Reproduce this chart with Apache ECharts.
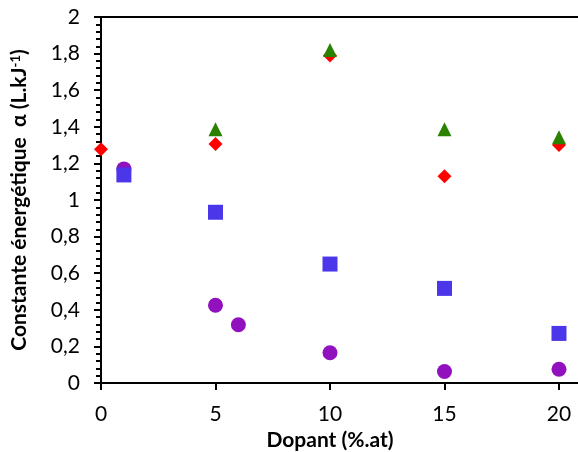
<!DOCTYPE html>
<html><head><meta charset="utf-8">
<script src="https://cdn.jsdelivr.net/npm/echarts@6/dist/echarts.min.js"></script>
<style>html,body{margin:0;padding:0;background:#fff}#c{width:578px;height:452px}</style>
</head><body><div id="c"></div>
<script>
const xTicks = [0, 5, 10, 15, 20];
const purpleX = [1, 5, 6, 10, 15, 20];
const purpleY = [1.17, 0.425, 0.318, 0.165, 0.063, 0.075];
const redX = [0, 5, 10, 15, 20];
const redY = [1.277, 1.306, 1.79, 1.13, 1.30];
const blueX = [1, 5, 10, 15, 20];
const blueY = [1.137, 0.933, 0.65, 0.517, 0.271];
const greenX = [5, 10, 15, 20];
const greenY = [1.386, 1.82, 1.386, 1.343];

const zip = (xs, ys) => xs.map((x, i) => [x, ys[i]]);
const font = 'Lato, "Open Sans", sans-serif';
const chart = echarts.init(document.getElementById('c'), null, {renderer: 'canvas'});
chart.setOption({
  animation: false,
  grid: {left: 101, right: 0, top: 17, bottom: 69, outerBoundsMode: 'none'},
  xAxis: [{
    type: 'value', min: 0, max: 20.83, interval: 5,
    axisLine: {show: true, lineStyle: {color: '#000', width: 2}},
    axisTick: {show: true, inside: false, length: 7, lineStyle: {color: '#000', width: 2}, customValues: xTicks},
    axisLabel: {color: '#000', fontSize: 21, fontFamily: font, margin: 21, customValues: xTicks,
      formatter: v => (Math.abs(v % 5) < 1e-6 ? String(v) : '')},
    splitLine: {show: false},
    name: 'Dopant (%.at)', nameLocation: 'middle', nameGap: 43,
    nameTextStyle: {color: '#000', fontSize: 21, fontWeight: 'bold', fontFamily: font, padding: [0, 19, 0, 0]}
  }, {
    type: 'value', position: 'top', min: 0, max: 20.83,
    axisLine: {show: true, onZero: false, lineStyle: {color: '#000', width: 2}},
    axisTick: {show: false}, axisLabel: {show: false}, splitLine: {show: false}
  }],
  yAxis: {
    type: 'value', min: 0, max: 2, interval: 0.2,
    axisLine: {show: true, lineStyle: {color: '#000', width: 2}},
    axisTick: {show: true, inside: false, length: 7, lineStyle: {color: '#000', width: 2}},
    minorTick: {show: true, splitNumber: 5, length: 5, lineStyle: {color: '#000', width: 2}},
    axisLabel: {color: '#000', fontSize: 21, fontFamily: font, margin: 21,
      formatter: v => String(Math.round(v * 10) / 10).replace('.', ',')},
    splitLine: {show: false},
    name: 'Constante énergétique  α (L.kJ{sup|-1})', nameLocation: 'middle', nameGap: 71,
    nameTextStyle: {color: '#000', fontSize: 21, fontWeight: 'bold', fontFamily: font,
      rich: {sup: {fontSize: 13, fontWeight: 'bold', fontFamily: font, color: '#000', verticalAlign: 'top', padding: [0, 0, 8, 0]}}}
  },
  series: [
    {type: 'scatter', data: zip(purpleX, purpleY), symbol: 'circle', symbolSize: 15,
     itemStyle: {color: '#9111BE', opacity: 1}},
    {type: 'scatter', data: zip(redX, redY), symbol: 'diamond', symbolSize: [14, 14],
     itemStyle: {color: '#FF0000', opacity: 1}},
    {type: 'scatter', data: zip(blueX, blueY), symbol: 'rect', symbolSize: 15,
     itemStyle: {color: '#4B36E9', opacity: 1}},
    {type: 'scatter', data: zip(greenX, greenY), symbol: 'triangle', symbolSize: [14, 14],
     itemStyle: {color: '#2A8200', opacity: 1}}
  ]
});
</script></body></html>
